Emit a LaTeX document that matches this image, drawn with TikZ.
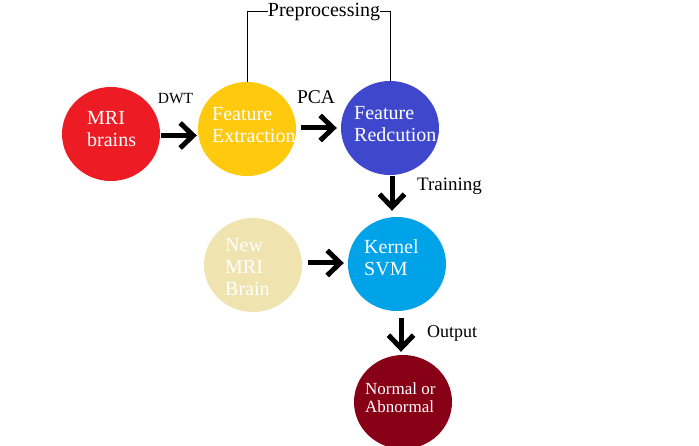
\documentclass[tikz,border=0pt]{standalone}
\usepackage{fontspec}
\setmainfont{Liberation Serif}
\usetikzlibrary{shapes.geometric,arrows.meta,calc}
\definecolor{cred}{HTML}{ED1C24}
\definecolor{cyel}{HTML}{FFC90E}
\definecolor{cblu}{HTML}{3F48CC}
\definecolor{ctan}{HTML}{EFE4B0}
\definecolor{csvm}{HTML}{00A2E8}
\definecolor{cdrk}{HTML}{880015}
\begin{document}
\begin{tikzpicture}[x=1pt,y=-1pt,
  circ/.style={ellipse,minimum width=98pt,minimum height=94pt,inner sep=0pt,draw=none},
  intext/.style={text=white,anchor=west,align=left,inner sep=0pt,font=\fontsize{20}{22}\selectfont},
  lbl/.style={inner sep=0pt,font=\fontsize{19}{22}\selectfont},
  arr/.style={line width=5pt,-{Straight Barb[length=13pt,width=25pt]}}]
\useasboundingbox (0,0) rectangle (699,446);
\fill[white] (0,0) rectangle (699,446);
% circles
\node[circ,fill=cred] (mri) at (111,134) {};
\node[circ,fill=cyel] (fe) at (247,129) {};
\node[circ,fill=cblu] (fr) at (390,128) {};
\node[circ,fill=ctan] (new) at (253,265) {};
\node[circ,fill=csvm] (svm) at (397,264) {};
\node[circ,fill=cdrk] (out) at (403,402) {};
% texts inside
\node[intext] (tmri) at (87,129) {MRI\\brains};
\node[intext] (tfe) at (212,125.5) {Feature\\Extraction};
\node[intext] (tfr) at (354,124) {Feature\\Redcution};
\node[intext] (tsvm) at (364,257.5) {Kernel\\SVM};
\node[intext] (tnew) at (225,267) {New\\MRI\\Brain};
\node[intext,font=\fontsize{17}{18}\selectfont] (tout) at (365,398) {Normal or\\Abnormal};
% labels
\node[lbl,font=\fontsize{15.5}{18}\selectfont] (dwt) at (175.5,99) {DWT};
\node[lbl,font=\fontsize{19.5}{22}\selectfont] (pca) at (316,97) {PCA};
\node[lbl,font=\fontsize{20}{22}\selectfont] (pre) at (324,12) {Preprocessing};
\node[lbl,anchor=west] (trn) at (417,186) {Training};
\node[lbl,anchor=west,font=\fontsize{18}{22}\selectfont] (outp) at (427,333) {Output};
% bracket
\draw[line width=1pt] (fe.north) -- (fe.north |- pre.west) -- (pre.west);
\draw[line width=1pt] (pre.east) -- (pre.east -| fr.north) -- (fr.north);
% arrows
\draw[arr,shorten <=1pt,shorten >=1pt] ([yshift=-1.5pt]mri.east) -- ([yshift=-1.5pt]mri.east -| fe.west);
\draw[arr,shorten <=5pt,shorten >=4pt] ([yshift=1pt]fe.east) -- ([yshift=1pt]fe.east -| fr.west);
\draw[arr,shorten <=1pt,shorten >=6pt] ([xshift=2pt]fr.south) -- ([xshift=2pt]fr.south |- svm.north);
\draw[arr,shorten <=6pt,shorten >=4pt] ([yshift=2pt]new.east) -- ([yshift=2pt]new.east -| svm.west);
\draw[arr,shorten <=7pt,shorten >=3pt] ([xshift=4pt]svm.south) -- ([xshift=4pt]svm.south |- out.north);
\end{tikzpicture}
\end{document}
